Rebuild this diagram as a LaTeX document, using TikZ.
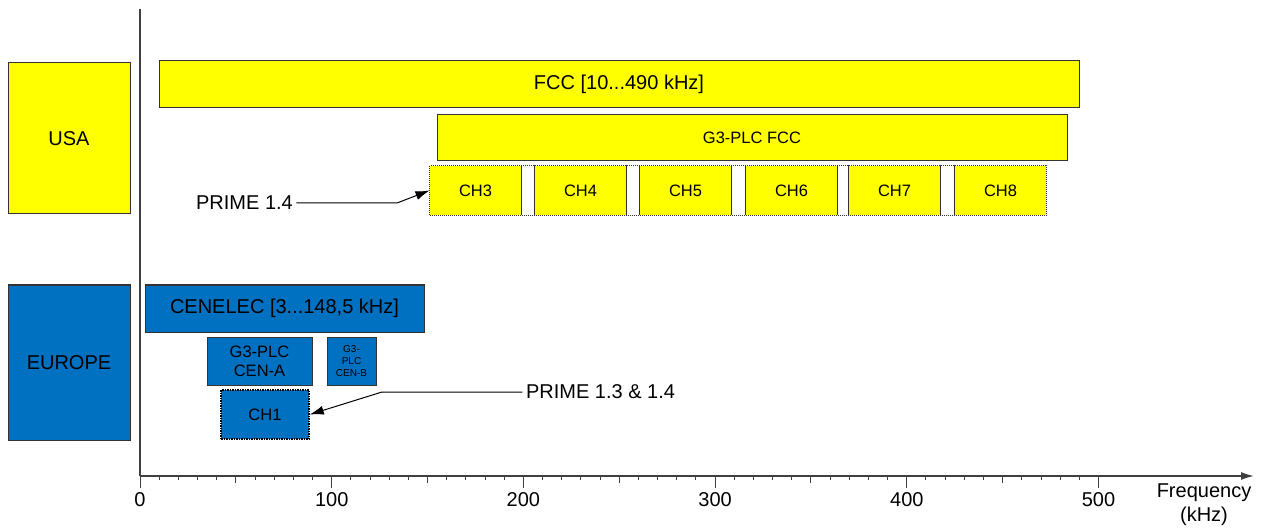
\documentclass[tikz,border=0pt]{standalone}
\usepackage{fontspec}
\setmainfont{Liberation Sans}
\usetikzlibrary{arrows.meta}
\usetikzlibrary{fit}
\definecolor{usayellow}{RGB}{255,255,0}
\definecolor{eublue}{RGB}{0,112,192}
\tikzstyle{USA} = [rectangle, inner sep=0pt, text centered, draw=black!80, line width=1pt, fill=usayellow, 
font=\fontsize{20}{24}\selectfont]
\tikzstyle{EU} = [rectangle, inner sep=0pt, text centered, draw=black!80, line width=1pt, fill=eublue, 
font=\fontsize{20}{24}\selectfont]
\tikzstyle{chan} = [font=\fontsize{16.5}{19}\selectfont]
\tikzstyle{pointer} = [line width=1pt, -{Latex[length=14pt,width=9pt]}]
\tikzstyle{freqaxis} = [line width=1.3pt, draw=black!75]

\begin{document}
\begin{tikzpicture}[x=1pt, y=-1pt, font=\fontsize{20}{24}\selectfont]
  \useasboundingbox (0,0) rectangle (1263,529);

  % regions
  \node(usa)[USA, minimum width=122pt, minimum height=151pt] at (69,138.5) {USA};
  \node(europe)[EU, minimum width=122pt, minimum height=155pt] at (69,362.5) {EUROPE};

  % USA bands
  \node(fcc)[USA, minimum width=920pt, minimum height=47pt] at (619,84.5) {FCC [10...490 kHz]};
  \node(g3fcc)[USA, chan, minimum width=630pt, minimum height=46pt] at (752,138) {G3-PLC FCC};
  \node(ch3)[USA, chan, draw=none, minimum width=91pt, minimum height=49pt] at (475.5,190.5) {CH3};
  \node(ch4)[USA, chan, draw=none, minimum width=91pt, minimum height=49pt] at (580.5,190.5) {CH4};
  \node(ch5)[USA, chan, draw=none, minimum width=91pt, minimum height=49pt] at (685.5,190.5) {CH5};
  \node(ch6)[USA, chan, draw=none, minimum width=91pt, minimum height=49pt] at (791.5,190.5) {CH6};
  \node(ch7)[USA, chan, draw=none, minimum width=91pt, minimum height=49pt] at (894.5,190.5) {CH7};
  \node(ch8)[USA, chan, draw=none, minimum width=91pt, minimum height=49pt] at (1000.5,190.5) {CH8};
  \node(chgroup)[fit=(ch3)(ch8), inner sep=0pt, draw=black!80, line width=1pt, densely dotted]{};
  \foreach \c in {3,...,7} \draw[black!80, line width=1pt] (ch\c.north east) -- (ch\c.south east);
  \foreach \c in {4,...,8} \draw[black!80, line width=1pt] (ch\c.north west) -- (ch\c.south west);

  % Europe bands
  \node(cenelec)[EU, minimum width=279pt, minimum height=47pt] at (284.5,308.5) {CENELEC [3...148,5 kHz]};
  \node(cena)[EU, chan, align=center, minimum width=105pt, minimum height=48pt] at (259.5,361) {G3-PLC\\CEN-A};
  \node(cenb)[EU, align=center, font=\fontsize{10}{12}\selectfont, minimum width=49pt, minimum height=48pt] at (351.5,361) {G3-\\PLC\\CEN-B};
  \node(ch1)[EU, chan, draw=black, line width=1.5pt, densely dotted, minimum width=88pt, minimum height=49pt] at (265,414.5) {CH1};

  % PRIME labels
  \node(prime14) at (244.5,203) {PRIME 1.4};
  \coordinate(bend14) at (397,203);
  \draw[pointer] (prime14.east) -- (bend14) -- (ch3.west);
  \node(prime13) at (600.5,392) {PRIME 1.3 \& 1.4};
  \coordinate(bend13) at (382,392);
  \draw[pointer] (prime13.west) -- (bend13) -- (ch1.east);

  % frequency axis
  \coordinate(origin) at (140,476);
  \coordinate(ytop) at (140,9);
  \coordinate(xend) at (1254,476);
  \draw[freqaxis] (ytop) -- (origin);
  \draw[freqaxis, -{Latex[length=13pt,width=8pt]}] (origin) -- (xend);
  \foreach \f in {0,10,...,500} \draw[freqaxis, line width=1pt] ({140+1.917*\f},476) -- ++(0,4);
  \foreach \f in {50,150,...,450} \draw[freqaxis, line width=1pt] ({140+1.917*\f},476) -- ++(0,7);
  \foreach \f in {0,100,...,500} {
    \draw[freqaxis, line width=1pt] ({140+1.917*\f},476) -- ++(0,12);
    \node(tick\f) at ({140+1.917*\f},500) {\f};
  }
  \node(freqlabel)[align=center] at (1204,505) {Frequency\\(kHz)};
%  \node(title) at (620,20) {};

\end{tikzpicture}
\end{document}
